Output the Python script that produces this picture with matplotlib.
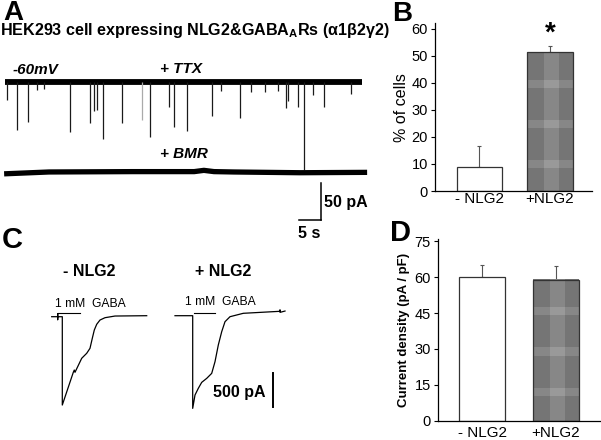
import matplotlib
matplotlib.use("Agg")
import matplotlib.pyplot as plt
import numpy as np

plt.rcParams['font.family'] = ['Liberation Sans', 'DejaVu Sans']
plt.rcParams['mathtext.fontset'] = 'custom'
plt.rcParams['mathtext.rm'] = 'Liberation Sans'
plt.rcParams['mathtext.bf'] = 'Liberation Sans:bold'

# ---------------- data ----------------
# Panel A: spontaneous IPSCs in +TTX (event time s, amplitude pA)
ttx_event_t = [0.5, 2.8, 5.2, 7.3, 8.9, 14.8, 19.3, 20.2, 20.9, 22.3, 26.7, 31.1,
               33.0, 37.2, 38.3, 41.4, 47.0, 49.0, 53.3, 55.8, 59.1, 62.0, 63.8,
               64.4, 66.7, 67.95, 70.1, 72.5, 78.6]
ttx_event_amp = [24, 65, 54, 11, 9, 68, 55, 39, 38, 77, 55, 51,
                 74, 34, 61, 66, 46, 12, 49, 14, 14, 12, 35,
                 26, 34, 119, 18, 34, 16]
ttx_duration = 81.1
# +BMR trace: slow baseline drift (s, pA)
bmr_t = [-0.2, 10, 29, 43, 45.2, 47.5, 52, 67, 82.3]
bmr_pA = [-2.5, 0, 0.5, 0.5, 2.2, 0.5, 0, -1, -0.5]
bmr_offset = -121.6
scale_pA = 50
scale_s = 5

# Panel B
groups = ['- NLG2', '+NLG2']
pct_cells = [8.8, 51.3]
pct_err = [7.7, 2.2]

# Panel C: GABA-evoked currents (ms, pA)
minus_t = [0, 120, 120, 120, 120, 212, 212, 432, 452, 466, 600, 700, 766, 812,
           852, 900, 966, 1066, 1266, 1900]
minus_I = [0, 0, 45, -45, 0, 0, -1325, -834, -800, -834, -624, -549, -474, -324,
           -200, -114, -50, -15, 10, 15]
plus_t = [0, 354, 354, 400, 466, 534, 634, 734, 800, 866, 934, 1000, 1100, 1366,
          2100, 2100, 2100, 2200]
plus_I = [0, 0, -1390, -1190, -1090, -1000, -940, -865, -690, -440, -240, -90,
          -15, 36, 66, 85, 50, 70]
gaba_minus = [132, 566]
gaba_plus = [380, 800]
plus_offset_t = 2466
plus_offset_I = 15
scale_C_pA = 500

# Panel D
density = [60.3, 59.0]
density_err = [4.8, 5.6]

# ---------------- figure ----------------
W, H = 601, 440
fig = plt.figure(figsize=(W / 100, H / 100), dpi=100)


def px_axes(x0, y0, x1, y1):
    return fig.add_axes([x0 / W, 1 - y1 / H, (x1 - x0) / W, (y1 - y0) / H])


def ftext(x, y, s, **kw):
    kw.setdefault('va', 'center')
    kw.setdefault('ha', 'left')
    fig.text(x / W, 1 - y / H, s, **kw)


# ---- Panel A ----
axA = px_axes(0, 40, 390, 245)
axA.set_xlim(-5 / 4.4, 385 / 4.4)
axA.set_ylim(-(245 - 82) * 50 / 37, (82 - 40) * 50 / 37)
axA.axis('off')
axA.plot([0, ttx_duration], [0, 0], color='black', lw=4.2, solid_capstyle='butt')
cols = ['#aaaaaa' if i == 11 else '#1a1a1a' for i in range(len(ttx_event_t))]
axA.vlines(ttx_event_t, 0, -np.array(ttx_event_amp), colors=cols, lw=0.9)
axA.plot(bmr_t, np.array(bmr_pA) + bmr_offset, color='black', lw=3.8,
         solid_capstyle='butt')
# scale bars
sx = 71.75
sy = -186.4
axA.plot([sx, sx], [sy, sy + scale_pA], color='black', lw=1.1)
axA.plot([sx - scale_s, sx], [sy, sy], color='black', lw=1.1)

ftext(3, 20.5, 'A', fontsize=20, fontweight='bold', va='baseline')
ftext(0, 31, r'HEK293 cell expressing NLG2&GABA$_{\mathbf{A}}$Rs (α1β2γ2)',
      fontsize=11.6, fontweight='bold')
ftext(13, 70, '-60mV', fontsize=11, fontweight='bold', style='italic')
ftext(160, 69, '+ TTX', fontsize=11, fontweight='bold', style='italic')
ftext(160, 154, '+ BMR', fontsize=11, fontweight='bold', style='italic')
ftext(324, 202, '50 pA', fontsize=11.5, fontweight='bold')
ftext(298, 233, '5 s', fontsize=11.5, fontweight='bold')

# ---- Panel C ----
axC = px_axes(0, 250, 390, 440)
axC.set_xlim(-51.7 * 20, (390 - 51.7) * 20)
axC.set_ylim(-(440 - 316.7) * 15, (316.7 - 250) * 15)
axC.axis('off')
axC.plot(minus_t, minus_I, color='black', lw=0.9)
axC.plot(np.array(plus_t) + plus_offset_t, np.array(plus_I) + plus_offset_I,
         color='black', lw=0.9)
axC.plot(gaba_minus, [50, 50], color='black', lw=0.8)
axC.plot(np.array(gaba_plus) + plus_offset_t, [55, 55], color='black', lw=0.8)
axC.plot([4432, 4432], [-1350, -1350 + scale_C_pA], color='black', lw=1.4)

ftext(2, 248, 'C', fontsize=21, fontweight='bold', va='baseline')
ftext(63, 272, '- NLG2', fontsize=11.5, fontweight='bold')
ftext(195, 272, '+ NLG2', fontsize=11.5, fontweight='bold')
ftext(55, 304, '1 mM  GABA', fontsize=8.7)
ftext(185, 302, '1 mM  GABA', fontsize=8.7)
ftext(213, 392, '500 pA', fontsize=11.5, fontweight='bold')


def plaid_bar(ax, xc, val, width, px_per_unit, bar_px):
    """Draw the grey plaid-textured bar (texture only, height from data)."""
    h = max(int(round(val * px_per_unit)), 1)
    w = int(round(bar_px))
    rows = np.arange(h)[:, None]
    colsx = np.arange(w)[None, :]
    vband = ((colsx >= w * 0.36) & (colsx < w * 0.68)).astype(float)
    hband = (((rows + 12) % 40) < 8).astype(float)
    img = 0.46 + 0.07 * vband + 0.07 * hband
    ax.imshow(img, cmap='gray', vmin=0, vmax=1, aspect='auto',
              interpolation='nearest', origin='upper',
              extent=(xc - width / 2, xc + width / 2, 0, val), zorder=2)


def bar_panel(ax, vals, errs, xlim, ylim, width, px_per_unit, bar_px, pad):
    x = np.arange(len(vals))
    ax.bar(x[0], vals[0], width=width, color='white', edgecolor='#333333',
           lw=0.9, zorder=2)
    plaid_bar(ax, x[1], vals[1], width, px_per_unit, bar_px)
    ax.bar(x[1], vals[1], width=width, fill=False, edgecolor='#333333',
           lw=0.9, zorder=3)
    ax.errorbar(x, vals, yerr=[[0, 0], errs], fmt='none', ecolor='#555555',
                elinewidth=0.8, capsize=1.5, capthick=0.8, zorder=1)
    ax.set_xlim(*xlim)
    ax.set_ylim(*ylim)
    ax.set_xticks(x)
    ax.set_xticklabels(groups, fontsize=11)
    ax.tick_params(axis='x', length=0, pad=pad)
    ax.tick_params(axis='y', length=3, width=0.8, labelsize=10.5, pad=2)
    for s in ['top', 'right']:
        ax.spines[s].set_visible(False)
    for s in ['left', 'bottom']:
        ax.spines[s].set_linewidth(0.9)


# ---- Panel B ----
axB = px_axes(435, 191 - 62 * 2.706, 592, 191)
bar_panel(axB, pct_cells, pct_err, (-0.631, 1.596), (0, 62), 0.64, 2.706, 45, 1)
axB.set_yticks(range(0, 61, 10))
axB.set_ylabel('% of cells', fontsize=11.5, labelpad=2)
axB.text(1, 53.2, '*', ha='center', va='bottom', fontsize=20, fontweight='bold')
ftext(392, 21, 'B', fontsize=20, fontweight='bold', va='baseline')

# ---- Panel D ----
axD = px_axes(437.7, 420.7 - 76 * 2.39, 600, 420.7)
bar_panel(axD, density, density_err, (-0.599, 1.595), (0, 76), 0.62, 2.39, 46, 4)
axD.set_yticks(range(0, 76, 15))
axD.set_ylabel('Current density (pA / pF)', fontsize=9.5, fontweight='bold',
               labelpad=3)
ftext(390, 241, 'D', fontsize=21, fontweight='bold', va='baseline')

fig.savefig('out.png', dpi=100)
